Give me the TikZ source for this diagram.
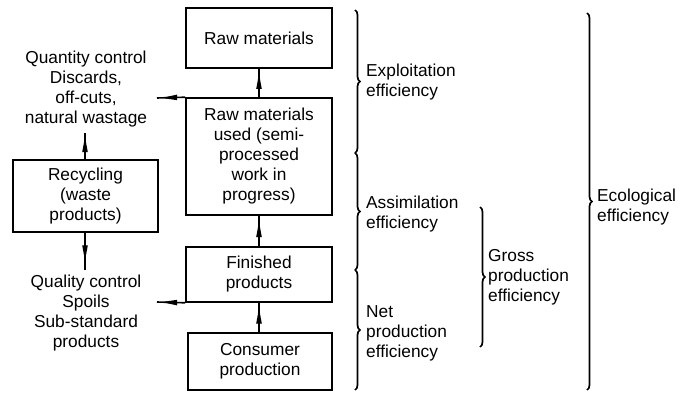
\documentclass[tikz,border=0pt]{standalone}
\usepackage{fontspec}
\setmainfont{Liberation Sans}
\usetikzlibrary{decorations.markings,decorations.pathreplacing}
\begin{document}
\begin{tikzpicture}[x=1pt,y=-1pt,
  every node/.style={font=\fontsize{17.3}{20}\selectfont, align=center, inner sep=0pt},
  boxn/.style={draw, line width=1.6pt, minimum width=146pt},
  flow/.style={line width=1.6pt, postaction={decorate}, decoration={markings,
     mark=at position 0.5 with {\fill (-6pt,-2.8pt) -- (6pt,-0.6pt) -- (6pt,0.6pt) -- (-6pt,2.8pt) -- cycle;}}},
  brc/.style={line width=1.7pt, decorate, decoration={brace, amplitude=5pt}},
  lbl/.style={anchor=west, align=left}]
\useasboundingbox (0,0) rectangle (683,393);
% boxes
\node[boxn, minimum height=60pt] (raw) at (259,38) {Raw materials};
\node[boxn, minimum height=117pt] (used) at (259,156.5) {Raw materials\\used (semi-\\processed\\work in\\progress)};
\node[boxn, minimum height=55pt] (fin) at (259,274.5) {Finished\\products};
\node[boxn, minimum height=57pt, minimum width=144pt] (cons) at (260,361.5) {Consumer\\production};
\node[boxn, minimum height=72pt, minimum width=145pt] (rec) at (85.5,196) {Recycling\\(waste\\products)};
% side texts
\node (qty) at (86,89) {Quantity control\\Discards,\\off-cuts,\\natural wastage};
\node (qual) at (86,313) {Quality control\\Spoils\\Sub-standard\\products};
\coordinate (qtyend) at (157,98);
\coordinate (qualend) at (157,302);
\coordinate (qtybot) at (85,133);
\coordinate (qualtop) at (85,270);
% connectors
\draw[flow] (used.north) -- (raw.south);
\draw[flow] (fin.north) -- (used.south);
\draw[flow] (cons.north -| fin.south) -- (fin.south);
\draw[flow] (used.north west) -- (qtyend);
\draw[flow] (fin.south west) -- (qualend);
\draw[flow] (rec.north -| qtybot) -- (qtybot);
\draw[flow] (rec.south -| qualtop) -- (qualtop);
% braces
\coordinate (b1) at (355,10);
\coordinate (b2) at (355,153);
\coordinate (b3) at (355,270);
\coordinate (b4) at (355,390);
\draw[brc] (b1) -- (b2);
\draw[brc] (b2) -- (b3);
\draw[brc] (b3) -- (b4);
\coordinate (g1) at (480,207);
\coordinate (g2) at (480,347);
\draw[brc] (g1) -- (g2);
\coordinate (e1) at (587,13);
\coordinate (e2) at (587,390);
\draw[brc] (e1) -- (e2);
% labels
\node[lbl] (expl) at (366,82) {Exploitation\\efficiency};
\node[lbl] (assim) at (366,214) {Assimilation\\efficiency};
\node[lbl] (net) at (366,333) {Net\\production\\efficiency};
\node[lbl] (gross) at (488,277) {Gross\\production\\efficiency};
\node[lbl] (eco) at (597,207) {Ecological\\efficiency};
\end{tikzpicture}
\end{document}
